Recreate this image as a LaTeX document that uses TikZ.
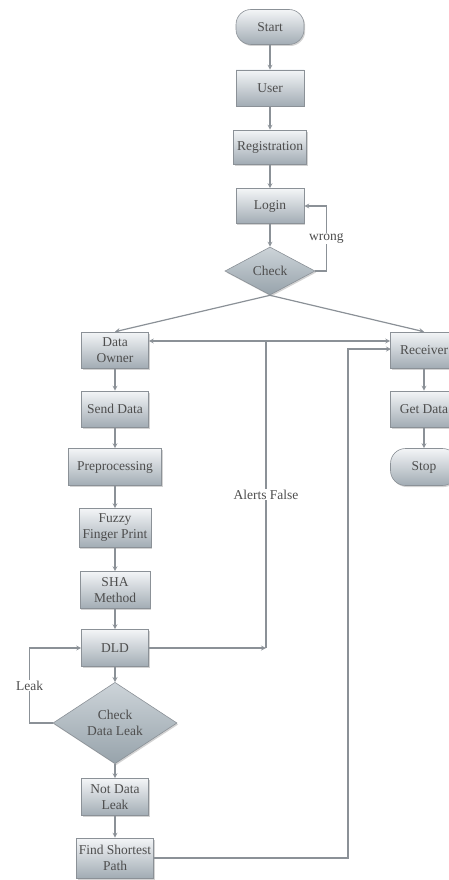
\documentclass[tikz,border=0pt]{standalone}
\usepackage{fontspec}
\setmainfont{Liberation Serif}
\usepackage{xcolor}
\usepackage{tikz}
\usetikzlibrary{positioning}
\usetikzlibrary{arrows}
\usetikzlibrary{shapes}
\usetikzlibrary{shadows}
\usetikzlibrary{calc}

\definecolor{boxtop}{HTML}{F3F5F7}
\definecolor{boxbot}{HTML}{A2ACB4}
\definecolor{diatop}{HTML}{CDD4D9}
\definecolor{diabot}{HTML}{97A3AB}
\definecolor{edge}{HTML}{8B9197}
\definecolor{ink}{HTML}{4E4E4E}

\begin{document}
\begin{tikzpicture}[x=1pt, y=-1pt, >=stealth]

\tikzset{%
    every box/.style = {
        rectangle,
        draw=edge,
        line width=0.6pt,
        top color=boxtop,
        bottom color=boxbot,
        drop shadow={shadow xshift=1.2pt, shadow yshift=-1.5pt, opacity=0.35},
        align=center,
        inner sep=0pt,
        text=ink,
        font=\fontsize{13.5}{16}\selectfont
    },
    box end/.style = {
        rounded corners=15pt
    },
    box test/.style = {
        diamond,
        top color=diatop,
        bottom color=diabot
    },
    flow line/.style = {
        draw=edge,
        line width=1.2pt
    },
    flow label/.style = {
        fill=white,
        inner sep=1pt,
        text=ink,
        font=\fontsize{13.5}{16}\selectfont
    }
}

\useasboundingbox (0,0) rectangle (449,880);

\foreach \n/\t/\s/\x/\y/\w/\h in {%
    start/Start/end/270/27/68/35,
    user/User/none/270/88/68/36,
    reg/Registration/none/270/147/73/34,
    login/Login/none/270/206/68/35,
    check/Check/test/270/271/90/48,
    owner/{Data\\Owner}/none/115/350/67/36,
    receiver/Receiver/none/424/350/67/36,
    send/Send Data/none/115/409/67/36,
    getdata/Get Data/none/424/409/67/36,
    pre/Preprocessing/none/115/467/93/37,
    stop/Stop/end/424/467/67/37,
    fuzzy/{Fuzzy\\Finger Print}/none/115/528/72/39,
    sha/{SHA\\Method}/none/115/590/70/37,
    dld/DLD/none/115/648/67/37,
    leak/{Check\\Data Leak}/test/115/723/124/66,
    notleak/{Not Data\\Leak}/none/115/797/67/37,
    path/{Find Shortest\\Path}/none/115/858/77/40}
  \node [every box/.try, box \s/.try, minimum width=\w pt, minimum height=\h pt] (\n) at (\x,\y) {\t};

\foreach \a/\b in {start/user, user/reg, reg/login, login/check,
    owner/send, send/pre, pre/fuzzy, fuzzy/sha, sha/dld, dld/leak,
    leak/notleak, notleak/path, receiver/getdata, getdata/stop}
  \draw [flow line, ->] (\a) -- (\b);

\draw [flow line, ->] (check.south) -- (owner.north);
\draw [flow line, ->] (check.south) -- (receiver.north);

% wrong login
\draw [flow line, ->] (check.east) -- ++(11,0) |- (login.east)
    node [flow label, pos=0.25] {wrong};

% leak found
\draw [flow line, ->] (leak.west) -- ++(-23,0) |- (dld.west)
    node [flow label, pos=0.25] {Leak};

% alerts
\coordinate (alert) at (266,648);
\coordinate (alerttop) at (266,341);
\draw [flow line, ->] (dld.east) -- (alert);
\draw [flow line] (alert) -- (alerttop)
    node [flow label, pos=0.5] {Alerts False};
\draw [flow line, ->] (alerttop) -- (owner.east |- alerttop);
\draw [flow line, ->] (alerttop) -- (receiver.west |- alerttop);

% shortest path
\coordinate (pathturn) at (348,858);
\coordinate (pathin) at (391,349);
\draw [flow line, ->] (path.east) -- (pathturn) |- (pathin);

\end{tikzpicture}
\end{document}
